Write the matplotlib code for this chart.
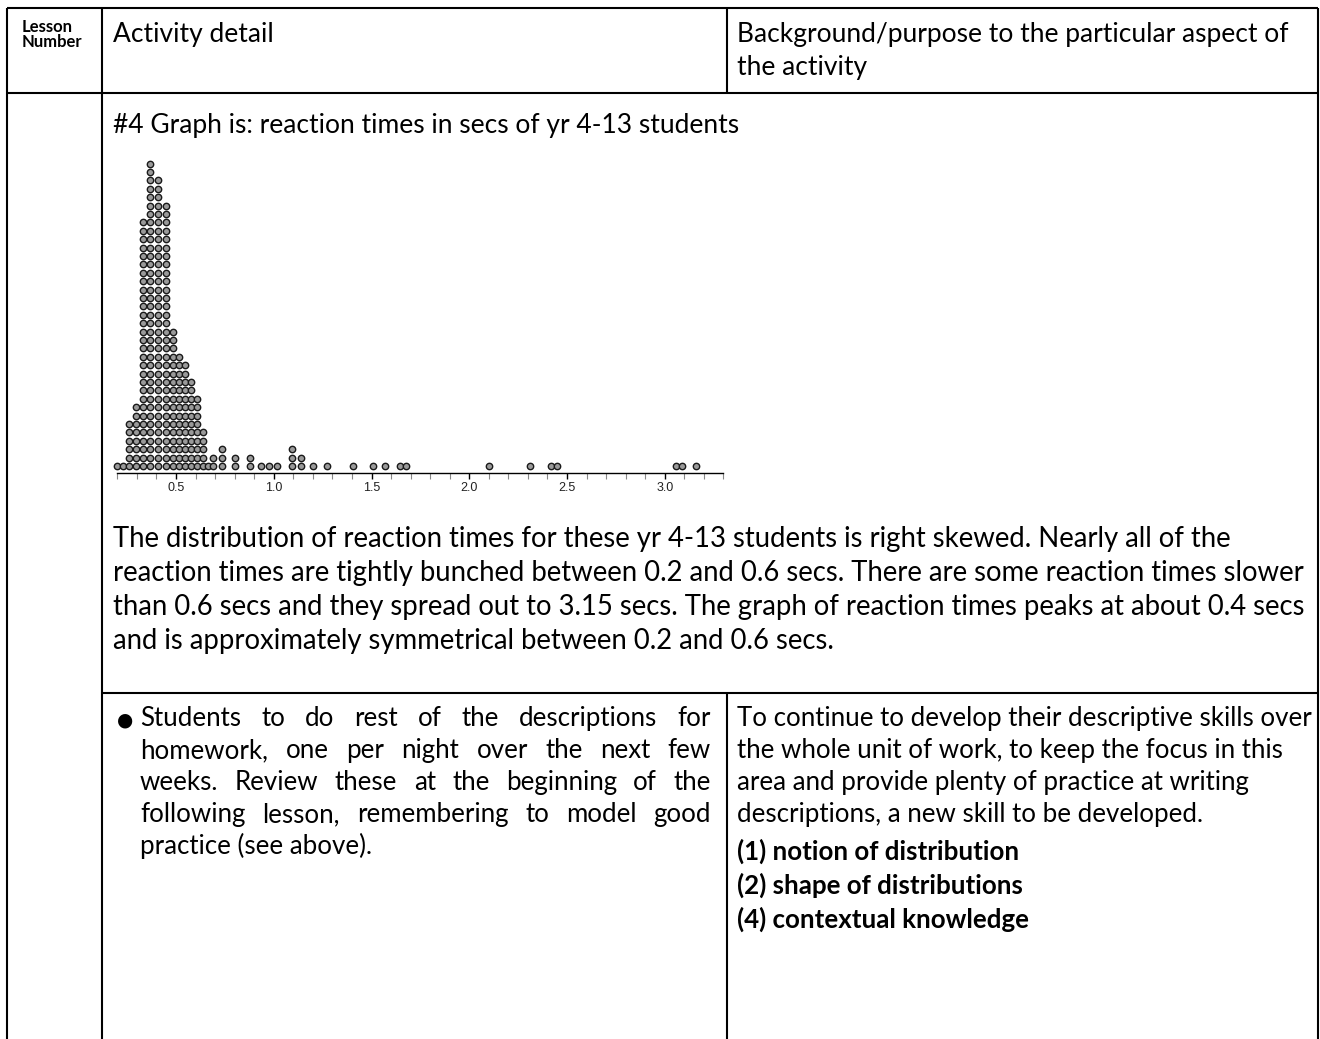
import matplotlib
matplotlib.use("Agg")
import matplotlib.pyplot as plt
from matplotlib.ticker import FixedLocator
import numpy as np

W, H = 1320, 1039
FONT = ["Lato", "DejaVu Sans"]

# dot plot: reaction time (secs) of each stacked column and how many dots it holds
times = [0.198, 0.229, 0.260, 0.295, 0.331, 0.367, 0.408, 0.449,
         0.485, 0.515, 0.546, 0.577, 0.607, 0.638, 0.662,
         0.687, 0.733, 0.800, 0.880, 0.934, 0.974, 1.015, 1.095, 1.140, 1.199,
         1.270, 1.403, 1.510, 1.571, 1.648, 1.679,
         2.100, 2.310, 2.420, 2.450, 3.060, 3.090, 3.160]
counts = [1, 1, 6, 8, 30, 37, 35, 32,
          17, 14, 13, 11, 9, 5, 1,
          2, 3, 2, 2, 1, 1, 1, 3, 2, 1,
          1, 1, 1, 1, 1, 1,
          1, 1, 1, 1, 1, 1, 1]
major_ticks = [0.5, 1.0, 1.5, 2.0, 2.5, 3.0]
tick_labels = ["0.5", "1.0", "1.5", "2.0", "2.5", "3.0"]

header_lesson = ["Lesson", "Number"]
header_activity = "Activity detail"
header_purpose = ["Background/purpose to the particular aspect of", "the activity"]
graph_title = "#4 Graph is: reaction times in secs of yr 4-13 students"
paragraph = [
    "The distribution of reaction times for these yr 4-13 students is right skewed. Nearly all of the",
    "reaction times are tightly bunched between 0.2 and 0.6 secs. There are some reaction times slower",
    "than 0.6 secs and they spread out to 3.15 secs. The graph of reaction times peaks at about 0.4 secs",
    "and is approximately symmetrical between 0.2 and 0.6 secs.",
]
bullet_lines = [
    "Students to do rest of the descriptions for",
    "homework, one per night over the next few",
    "weeks. Review these at the beginning of the",
    "following lesson, remembering to model good",
    "practice (see above).",
]
purpose_lines = [
    "To continue to develop their descriptive skills over",
    "the whole unit of work, to keep the focus in this",
    "area and provide plenty of practice at writing",
    "descriptions, a new skill to be developed.",
]
purpose_bold = ["(1) notion of distribution", "(2) shape of distributions", "(4) contextual knowledge"]

fig = plt.figure(figsize=(W / 100, H / 100), dpi=100)
page = fig.add_axes([0, 0, 1, 1])
page.set_xlim(0, W); page.set_ylim(H, 0); page.axis("off")
rend = fig.canvas.get_renderer()


def text_w(s, size, weight="normal"):
    t = page.text(0, 0, s, fontsize=size, family=FONT, weight=weight)
    w = t.get_window_extent(rend).width
    t.remove()
    return w


def fit(s, target, weight="normal"):
    # font size that makes s about target px wide (Calibri stand-in)
    return 10 * target / text_w(s, 10, weight)


FS_HEAD = fit(header_purpose[0], 553)
FS_PARA = fit(paragraph[1], 1197)
FS_CELL = fit(purpose_lines[0], 576)
FS_SMALL = fit("Number", 61, "bold")


def put(x, y, s, size, weight="normal"):
    page.text(x, y, s, fontsize=size, family=FONT, weight=weight,
              va="baseline", ha="left", color="black")


def justify(s, x0, x1, y, size):
    words = s.split()
    ws = [text_w(w, size) for w in words]
    gap = (x1 - x0 - sum(ws)) / (len(words) - 1)
    x = x0
    for w, wd in zip(words, ws):
        put(x, y, w, size)
        x += wd + gap


# table rules
LW = 1.5
rule = dict(color="black", lw=LW, solid_capstyle="butt")
for y in (8, 93):
    page.plot([7, 1318], [y, y], **rule)
page.plot([102, 1318], [693, 693], **rule)
for x in (7, 102, 1318):
    page.plot([x, x], [8, H], **rule)
page.plot([727, 727], [8, 93], **rule)
page.plot([727, 727], [693, H], **rule)

# header row
put(22, 32, header_lesson[0], FS_SMALL, "bold")
put(22, 47, header_lesson[1], FS_SMALL, "bold")
put(113, 42, header_activity, FS_HEAD)
put(737, 42, header_purpose[0], FS_HEAD)
put(737, 75, header_purpose[1], FS_HEAD)

# merged row with graph
put(113, 133, graph_title, FS_HEAD)
for i, line in enumerate(paragraph):
    put(113, 547 + 34 * i, line, FS_PARA)

# bottom row
page.text(117, 725, "●", fontsize=FS_CELL * 0.72, family=["DejaVu Sans"], va="baseline")
for i, line in enumerate(bullet_lines):
    y = 726 + 32 * i
    if i < len(bullet_lines) - 1:
        justify(line, 140, 711, y, FS_CELL)
    else:
        put(140, y, line, FS_CELL)
for i, line in enumerate(purpose_lines):
    put(737, 726 + 32 * i, line, FS_CELL)
for i, line in enumerate(purpose_bold):
    put(737, 860 + 34 * i, line, FS_CELL, "bold")

# dot plot, axes placed in pixel space of the page
x0, x1, ytop, ybot = 100, 740, 140, 480
ax = fig.add_axes([x0 / W, 1 - ybot / H, (x1 - x0) / W, (ybot - ytop) / H])
ax.patch.set_alpha(0)
ax.set_xlim(0.5 + (x0 - 176) / 195.5, 0.5 + (x1 - 176) / 195.5)
ax.set_ylim((466 - ybot) / 8.4, (466 - ytop) / 8.4)
xs = np.repeat(times, counts)
ys = np.concatenate([np.arange(c) for c in counts])
ax.scatter(xs, ys, s=21, facecolor="#9a9a9a", edgecolor="#1a1a1a", linewidths=1.0, clip_on=False, zorder=3)
for side in ("top", "left", "right"):
    ax.spines[side].set_visible(False)
ax.spines["bottom"].set_position(("data", -0.833))
ax.spines["bottom"].set_bounds(0.2, 3.3)
ax.spines["bottom"].set_linewidth(1.0)
ax.yaxis.set_visible(False)
ax.xaxis.set_major_locator(FixedLocator(major_ticks))
ax.xaxis.set_minor_locator(FixedLocator(np.round(np.arange(0.2, 3.31, 0.1), 2)))
ax.set_xticklabels(tick_labels)
ax.tick_params(axis="x", which="major", length=4.5, width=1.0, color="black", pad=2,
               labelsize=9, labelcolor="#222222")
ax.tick_params(axis="x", which="minor", length=4.5, width=0.8, color="#888888")
for lab in ax.get_xticklabels():
    lab.set_family("Liberation Sans")

fig.savefig("out.png", dpi=100)
